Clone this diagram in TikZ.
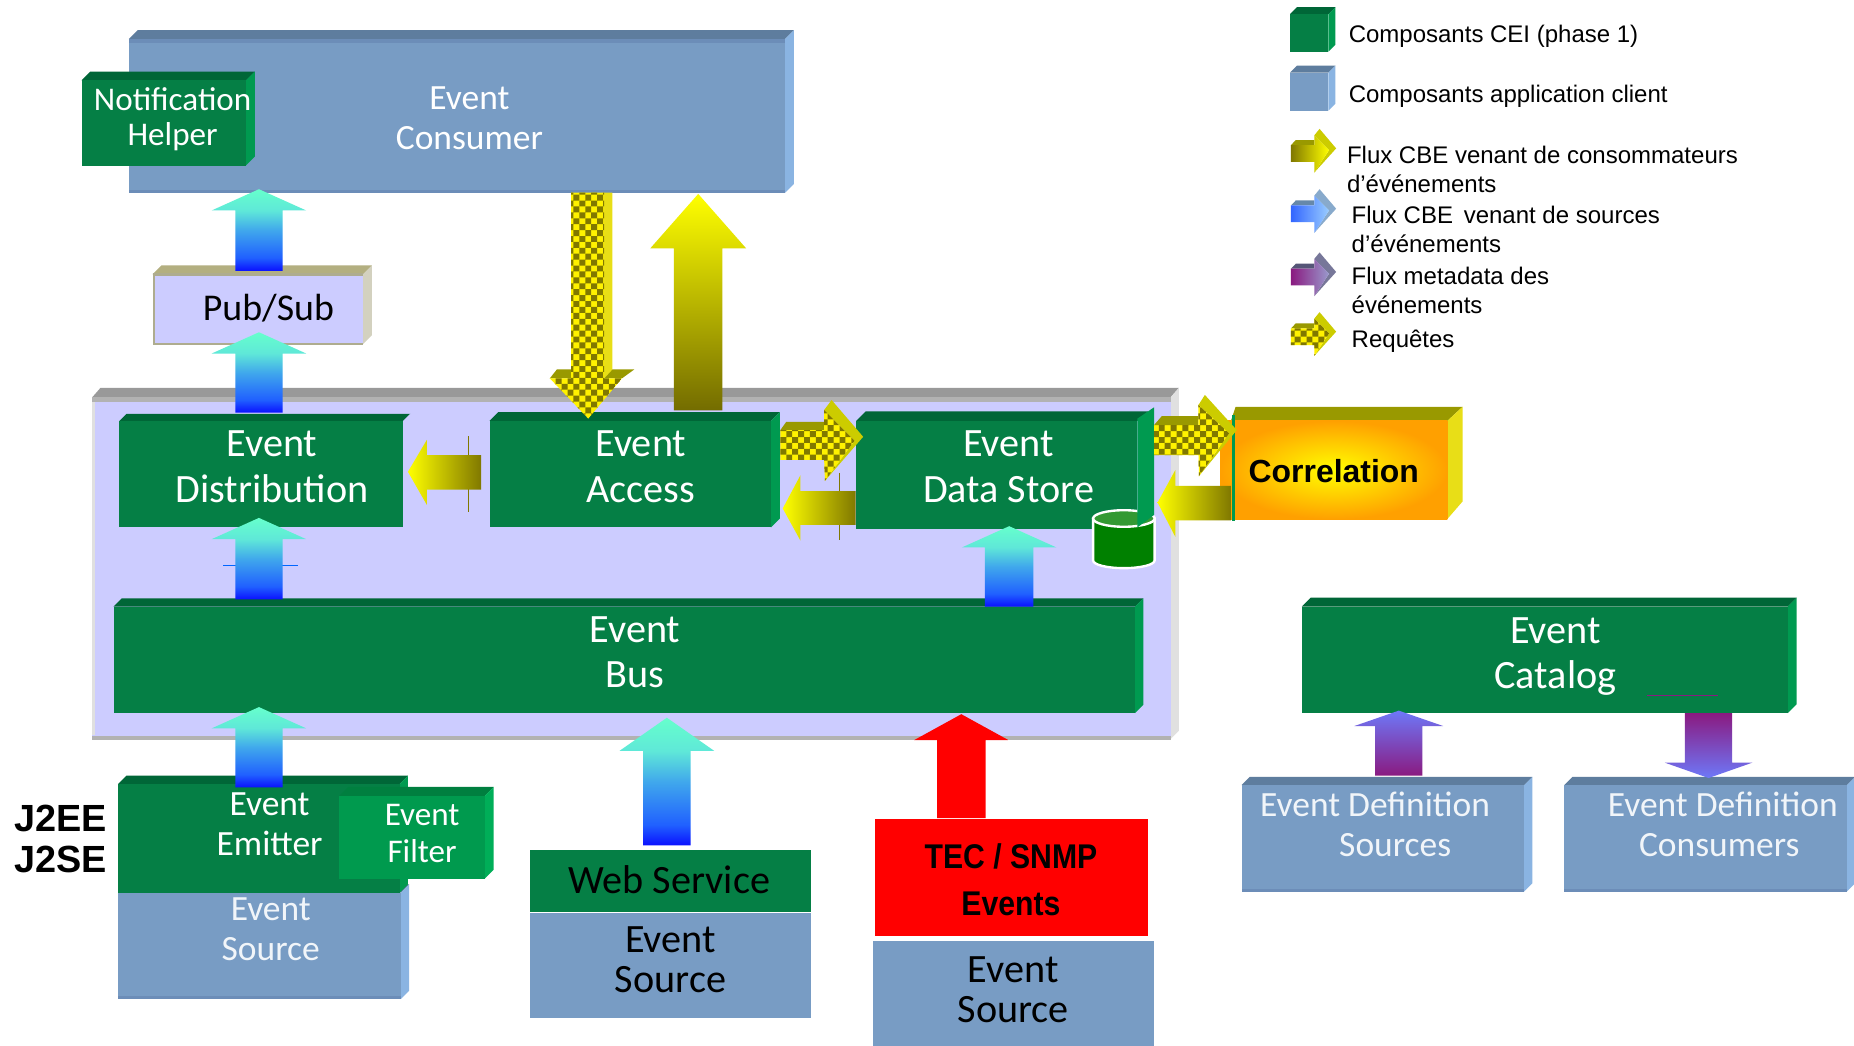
\documentclass[tikz,border=0pt]{standalone}
\usepackage{fontspec}
\setmainfont{Liberation Sans}
\newfontfamily\gill{Carlito}
\usetikzlibrary{patterns,shadings}
\definecolor{grF}{HTML}{057F45}\definecolor{grT}{HTML}{006637}\definecolor{grS}{HTML}{009A50}
\definecolor{gfF}{HTML}{009A4E}\definecolor{gfT}{HTML}{007F3F}\definecolor{gfS}{HTML}{00AE58}
\definecolor{blF}{HTML}{789CC4}\definecolor{blT}{HTML}{5E7D9E}\definecolor{blS}{HTML}{8AB4E2}\definecolor{blE}{HTML}{6C8DB8}
\definecolor{lav}{HTML}{CCCCFF}
\definecolor{oliveA}{HTML}{807800}\definecolor{oliveB}{HTML}{999900}\definecolor{yelS}{HTML}{CCCC00}
\definecolor{cyanT}{HTML}{66FFCC}\definecolor{cyanM}{HTML}{5FE8D8}\definecolor{cyanN}{HTML}{40A8EC}\definecolor{bluM}{HTML}{2060FF}\definecolor{bluB}{HTML}{0A10FF}
\definecolor{purA}{HTML}{8A1A80}\definecolor{purB}{HTML}{6E78F8}
\definecolor{legA}{HTML}{3366FF}\definecolor{legB}{HTML}{99CCFF}\definecolor{legC}{HTML}{6688AA}\definecolor{legD}{HTML}{88AACC}
\definecolor{legE}{HTML}{9999CC}\definecolor{legF}{HTML}{555577}\definecolor{legG}{HTML}{777799}
\definecolor{cylT}{HTML}{339933}\definecolor{cylB}{HTML}{008000}
\definecolor{oraE}{HTML}{FFA000}
\pgfdeclareverticalshading{cyb}{100bp}{color(0bp)=(bluB); color(25bp)=(bluB); color(33bp)=(bluM); color(50bp)=(cyanN); color(62bp)=(cyanM); color(75bp)=(cyanT); color(100bp)=(cyanT)}
\pgfdeclarepatternformonly{chk}{\pgfqpoint{-.05pt}{-.05pt}}{\pgfqpoint{10.05pt}{10.05pt}}{\pgfqpoint{10pt}{10pt}}{%
  \pgfpathrectangle{\pgfqpoint{0pt}{0pt}}{\pgfqpoint{5pt}{5pt}}%
  \pgfpathrectangle{\pgfqpoint{5pt}{5pt}}{\pgfqpoint{5pt}{5pt}}%
  \pgfusepath{fill}}
\tikzset{
  chkfill/.style={fill=yellow,postaction={pattern=chk,pattern color=oliveA}},
  lab/.style={inner sep=0pt,align=center,text=white,font=\gill\fontsize{#1}{#1}\selectfont},
  labk/.style={inner sep=0pt,align=center,text=black,font=\gill\fontsize{#1}{#1}\selectfont},
  leg/.style={inner sep=0pt,anchor=west,align=left,font=\fontsize{20.3}{24.5}\selectfont},
}
% name, x0,y0,x1,y1 (front face), depth, front,top,side
\newcommand{\boxthree}[9]{%
  \fill[#8] (#2,#3) -- (#2+#6,#3-#6) -- (#4+#6,#3-#6) -- (#4,#3) -- cycle;
  \fill[#9] (#4,#3) -- (#4+#6,#3-#6) -- (#4+#6,#5-#6) -- (#4,#5) -- cycle;
  \path[fill=#7] (#2,#3) rectangle (#4,#5) node[pos=.5,inner sep=0pt] (#1) {};
}
% vertical block arrow: centre x, tip y, base-of-head y, bottom y, head half, shaft half, shading options
\newcommand{\uparrowblock}[7]{%
  \shade[#7] (#1,#2) -- (#1+#5,#3) -- (#1+#6,#3) -- (#1+#6,#4) -- (#1-#6,#4) -- (#1-#6,#3) -- (#1-#5,#3) -- cycle;
}
% legend arrow: y offset, front options, band colour, side colour
\newcommand{\legendarrow}[4]{%
  \fill[#3] (1091.8,122.7+#1) -- (1096,118.4+#1) -- (1111.5,118.4+#1) -- (1111.5,122.7+#1) -- cycle;
  \fill[#4] (1111.5,114.5+#1) -- (1116,109+#1) -- (1130,125.5+#1) -- (1111.5,146+#1) -- (1124,127+#1) -- cycle;
  \path[#2] (1091.8,122.7+#1) -- (1111.5,122.7+#1) -- (1111.5,114.5+#1) -- (1124,127+#1) -- (1111.5,146+#1) -- (1111.5,136.8+#1) -- (1091.8,136.8+#1) -- cycle;
}
\begin{document}
\begin{tikzpicture}[x=1pt,y=-1pt]
\useasboundingbox (0,0) rectangle (1568,884.6);
\fill[white] (0,0) rectangle (1568,884.6);

% consumer
\boxthree{consumer}{109}{33}{664}{163}{7.5}{blF}{blT}{blS}
\fill[blE] (109,33) rectangle (664,36);
\fill[blE] (109,160.5) rectangle (664,163);
\boxthree{helper}{69}{68}{208}{140}{7.5}{grF}{grT}{grS}
\node[lab=28] (helpertxt) at (146,101) {Notification\\[2pt]Helper};
\node[lab=30] (consumertxt) at (397,100) {Event\\[4pt]Consumer};

% pub/sub
\boxthree{pubsub}{129}{232}{307}{291}{7.5}{lav}{white!50!oliveA!80!gray}{white!85!yellow!60!gray}
\draw[line width=2,color=white!60!oliveA!60!gray] (129,232) -- (307,232) (130,232) -- (130,291) -- (307,291);
\node[labk=32] (pubsubtxt) at (227,261) {Pub/Sub};

% panel
\fill[black!40] (78,336) -- (85,328) -- (997,328) -- (990,336) -- cycle;
\fill[black!12] (990,336) -- (997,328) -- (997,618) -- (990,625) -- cycle;
\path[fill=lav] (78,336) rectangle (990,625) node[pos=.5,inner sep=0pt] (panel) {};
\fill[black!30] (78,336) rectangle (990,340);
\fill[black!30] (78,622.5) rectangle (990,625.5);
\fill[black!12] (78,340) rectangle (80,622);

% thin stray lines
\draw[line width=.6,color=blue!60!cyan] (189,478.5) -- (252,478.5);
\draw[line width=.6,color=oliveA] (396,369) -- (396,433);
\draw[line width=.6,color=oliveA] (709.5,400) -- (709.5,457);

% green blocks
\boxthree{dist}{101}{356}{341}{446}{6}{grF}{grT}{lav}
\boxthree{access}{414}{356}{652}{446}{7.5}{grF}{grT}{grS}
\boxthree{bus}{96}{513}{960}{603}{7}{grF}{grT}{grS}
\node[lab=34] (disttxt) at (230,394.5) {Event\\[5pt]Distribution};
\node[lab=34] (accesstxt) at (542,394.5) {Event\\[5pt]Access};
\node[lab=34] (bustxt) at (537,552) {Event\\[4pt]Bus};

% correlation
\fill[oliveB] (1041,356) -- (1045,344) -- (1237,344) -- (1224,356) -- cycle;
\fill[yellow!90!black] (1224,356) -- (1237,344) -- (1237,424) -- (1224,439) -- cycle;
\shade[inner color=yellow,outer color=oraE] (1032,356) rectangle (1224,439);
\node[inner sep=0pt,font=\bfseries\fontsize{27}{27}\selectfont] (correlation) at (1128,398) {Correlation};
\fill[grS] (1042,351) rectangle (1044.5,441);

% data store + cylinder
\fill[grF] (724,356) rectangle (962,447);
\node[inner sep=0pt] (storebox) at (843,401) {};
\fill[grT] (724,356) -- (732,348) -- (971,348) -- (962,356) -- cycle;
\path[fill=cylB,draw=white,line width=2] (924.5,438.5) -- (924.5,474) arc[start angle=180,end angle=0,x radius=26,y radius=6.5] -- (976.5,438.5) -- cycle;
\path[fill=cylT,draw=white,line width=2] (950.5,438.5) ellipse[x radius=26,y radius=7];
\fill[grS] (962,354) -- (976,344.5) -- (976,435.5) -- (962,446) -- cycle;
\node[lab=34] (storetxt) at (853,394.5) {Event\\[5pt]Data Store};

% emitter / source
\boxthree{srcA}{100}{755}{339}{845}{7}{blF}{blT}{blS}
\fill[blE] (100,842.5) rectangle (339,845);
\boxthree{emitter}{100}{663}{338}{755}{7}{grF}{grT}{grS}
\boxthree{filter}{287}{673}{410}{743}{7.5}{gfF}{gfT}{gfS}
\node[lab=30] (emittertxt) at (228,697) {Event\\[4pt]Emitter};
\node[lab=28] (filtertxt) at (357,705) {Event\\[3pt]Filter};
\node[lab=30,text=white!90!blF] (srcAtxt) at (229,786) {Event\\[4pt]Source};

% web service
\path[fill=grF] (448,719) rectangle (686,771) node[pos=.5,inner sep=0pt] (web) {};
\node[labk=34] (webtxt) at (566,744) {Web Service};
\path[fill=blF] (448,772) rectangle (686,861) node[pos=.5,inner sep=0pt] (srcB) {};
\node[labk=34] (srcBtxt) at (567,812) {Event\\[0pt]Source};

% TEC
\path[fill=red] (740,693) rectangle (971,792) node[pos=.5,inner sep=0pt] (tec) {};
\node[inner sep=0pt,align=center,font=\bfseries\fontsize{29}{39}\selectfont] (tectxt) at (855,744) {\scalebox{.88}[1]{TEC / SNMP}\\\scalebox{.88}[1]{Events}};
\path[fill=blF] (738,796) rectangle (976,885) node[pos=.5,inner sep=0pt] (srcC) {};
\node[labk=34] (srcCtxt) at (857,837) {Event\\[0pt]Source};

% catalog group
\boxthree{catalog}{1101}{513}{1512}{603}{7.5}{grF}{grT}{grS}
\node[lab=34] (catalogtxt) at (1315.5,555) {Event\\[4pt]Catalog};
\draw[line width=.6,color=purA] (1393,588) -- (1453,588);
\boxthree{defsrc}{1050}{664}{1289}{754}{7}{blF}{blT}{blS}
\boxthree{defcon}{1323}{664}{1562}{754}{7}{blF}{blT}{blS}
\fill[blE] (1050,751.5) rectangle (1289,754);
\fill[blE] (1323,751.5) rectangle (1562,754);
\node[lab=30,text=white!90!blF] (defsrctxt) at (1163,680) {Event Definition};
\node[lab=30,text=white!90!blF] (defsrctxtb) at (1180,715) {Sources};
\node[lab=30,text=white!90!blF] (defcontxt) at (1457,680) {Event Definition};
\node[lab=30,text=white!90!blF] (defcontxtb) at (1454,715) {Consumers};

% block arrows
\uparrowblock{219}{160}{178}{229}{40}{20}{shading=cyb}
\uparrowblock{219}{281}{299}{349}{40}{20}{shading=cyb}
\uparrowblock{219}{438}{456}{507}{40}{20}{shading=cyb}
\uparrowblock{219}{598}{616}{666}{40}{20}{shading=cyb}
\uparrowblock{564}{607}{635}{715}{40}{20}{shading=cyb}
\uparrowblock{853.5}{445}{463}{513}{40}{20.5}{shading=cyb}
\uparrowblock{813}{604}{626}{692}{40}{20.5}{top color=red,bottom color=red}
\uparrowblock{590.5}{164}{210}{347}{40.5}{20.5}{top color=yellow,bottom color=oliveA!90!black}
\uparrowblock{1183}{601}{614}{656}{37.5}{20}{top color=purB,bottom color=purA}
% purple down
\shade[top color=purA,bottom color=purB] (1445,658) -- (1482,645) -- (1465,645) -- (1465,603) -- (1425,603) -- (1425,645) -- (1408,645) -- cycle;

% checker arrow down
\fill[oliveB] (465,320) -- (471,312.4) -- (536.5,312.4) -- (526,320) -- cycle;
\fill[yellow!90!black] (511,163) -- (518,163) -- (518,312.4) -- (511,320) -- cycle;
\path[chkfill] (483,163) -- (511,163) -- (511,320) -- (526,320) -- (497.5,354) -- (465,320) -- (483,320) -- cycle;

% checker Access -> Store
\fill[oliveB] (660,363.7) -- (665,356.7) -- (697,356.7) -- (697,363.7) -- cycle;
\fill[yelS] (697,346.8) -- (703.3,338.3) -- (730,369.4) -- (697.7,406.6) -- (722.7,372.7) -- cycle;
\path[chkfill] (660,363.7) -- (697,363.7) -- (697,346.8) -- (722.7,372.7) -- (697.7,406.6) -- (697,389) -- (660,389) -- cycle;

% checker Store -> Correlation
\fill[oliveB] (976,359.5) -- (982.5,352) -- (1013.6,352) -- (1013.6,359.5) -- cycle;
\fill[yelS] (1013.6,342.5) -- (1019,334) -- (1046,363.7) -- (1014,402.6) -- (1039.5,366.5) -- cycle;
\path[chkfill] (976,359.5) -- (1013.6,359.5) -- (1013.6,342.5) -- (1039.5,366.5) -- (1014,402.6) -- (1013.6,385) -- (976,385) -- cycle;

% yellow left arrows
\shade[left color=yellow,right color=oliveA] (345,399) -- (361,372) -- (361,385) -- (407,385) -- (407,414) -- (361,414) -- (361,427) -- cycle;
\shade[left color=yellow,right color=oliveA] (662,430) -- (677,401.8) -- (677,415.3) -- (723.6,415.3) -- (723.6,444) -- (677,444) -- (677,457.3) -- cycle;
\shade[left color=yellow,right color=oliveA] (979,425) -- (994,397.5) -- (994,411) -- (1041,411) -- (1041,440) -- (994,440) -- (994,454) -- cycle;

% J2EE
\node[inner sep=0pt,align=left,font=\bfseries\fontsize{32}{35}\selectfont] (j2) at (51.5,709.5) {J2EE\\J2SE};

% legend
\boxthree{legG}{1091}{12}{1123.4}{43.7}{6}{grF}{grT}{grS}
\boxthree{legB}{1091}{61.5}{1123.4}{93.6}{6}{blF}{blT}{blS}
\node[leg] (l1) at (1140.5,31) {Composants CEI (phase 1)};
\node[leg] (l2) at (1140.5,81.5) {Composants application client};
\legendarrow{0}{left color=oliveA,right color=yellow}{oliveB}{yelS}
\legendarrow{51}{left color=legA,right color=legB}{legC}{legD}
\legendarrow{104.5}{left color=purA,right color=legE}{legF}{legG}
\legendarrow{155}{chkfill}{oliveB}{yelS}
\node[leg] (l3) at (1139,143) {Flux CBE venant de consommateurs\\d’événements};
\node[leg] (l4) at (1143,194) {Flux CBE\, venant de sources\\d’événements};
\node[leg] (l5) at (1143,246) {Flux metadata des\\événements};
\node[leg] (l6) at (1143,289) {Requêtes};
\end{tikzpicture}
\end{document}
